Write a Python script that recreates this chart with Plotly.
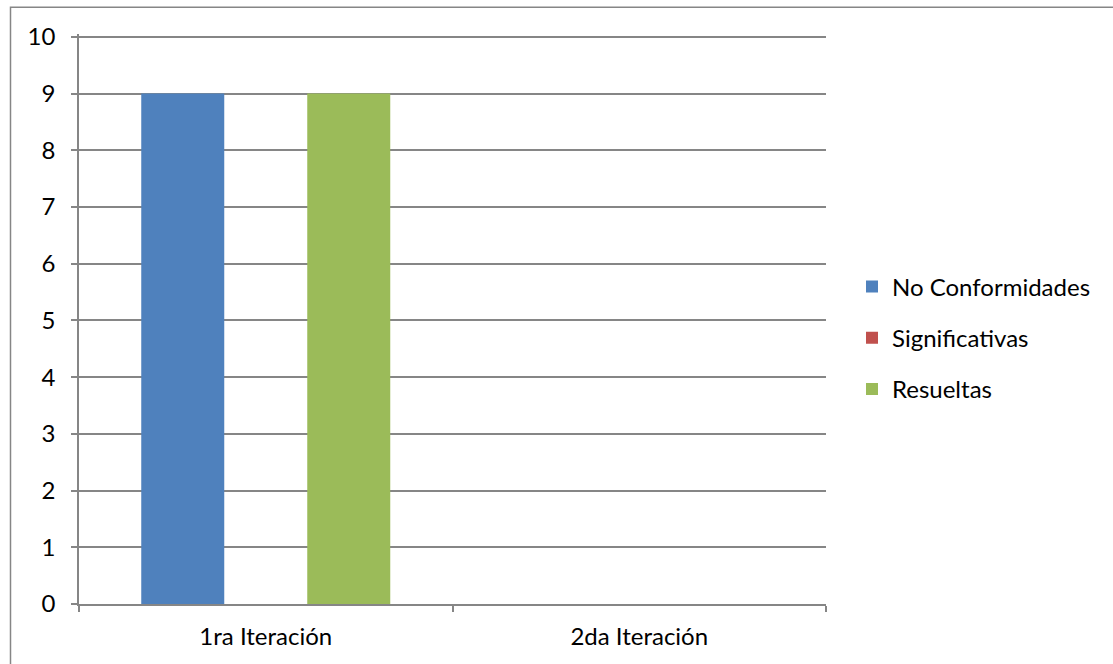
import plotly.graph_objects as go

categories = ["1ra Iteración", "2da Iteración"]
no_conformidades = [9, 0]
significativas = [0, 0]
resueltas = [9, 0]
y_ticks = list(range(0, 11))

W, H = 1113, 664
y_top = 10.05
unit = (604 - 37) / 10.0
L, R, B = 79, 1113 - 826, 664 - 604
T = 37 - (y_top - 10) * unit
pw, ph = W - L - R, H - T - B

font = dict(family="Lato, 'Open Sans', sans-serif", size=24, color="#000000")

fig = go.Figure()
fig.add_trace(go.Bar(name="No Conformidades", x=categories, y=no_conformidades,
                     marker=dict(color="#4F81BD", line=dict(width=0)), legendgroup="a"))
fig.add_trace(go.Bar(name="Significativas", x=categories, y=significativas,
                     marker=dict(color="#C0504D", line=dict(width=0)), legendgroup="b"))
fig.add_trace(go.Bar(name="Resueltas", x=categories, y=resueltas,
                     marker=dict(color="#9BBB59", line=dict(width=0)), legendgroup="c"))

fig.update_layout(
    width=W, height=H,
    margin=dict(l=L, r=R, t=T, b=B, autoexpand=False),
    paper_bgcolor="white", plot_bgcolor="white",
    font=font,
    barmode="group", bargap=1/3, bargroupgap=0,
    showlegend=True,
    legend=dict(x=(852 - L) / pw, xanchor="left", y=(604 - 338) / ph, yanchor="middle",
                font=font, tracegroupgap=17, itemwidth=30,
                bgcolor="rgba(0,0,0,0)"),
    xaxis=dict(showline=True, linecolor="#868686", linewidth=1.5,
               ticks="outside", tickson="boundaries", ticklen=6, tickcolor="#868686",
               tickwidth=1.5, showgrid=False, tickfont=font, fixedrange=True,
               ticklabelstandoff=10, automargin=False),
    yaxis=dict(range=[0, y_top], tickvals=y_ticks, showline=True, linecolor="#868686",
               linewidth=1.5, ticks="outside", ticklen=6, tickcolor="#868686", tickwidth=1.5,
               showgrid=True, gridcolor="#868686", gridwidth=1.5, zeroline=False,
               tickfont=font, fixedrange=True, ticklabelstandoff=11, automargin=False),
    shapes=[dict(type="rect", xref="paper", yref="paper",
                 x0=(10.5 - L) / pw, x1=(W + 20 - L) / pw,
                 y0=(604 - (H + 20)) / ph, y1=(604 - 7.5) / ph,
                 line=dict(color="#868686", width=1.5), fillcolor="rgba(0,0,0,0)",
                 layer="below")],
)

fig.write_html("out.html")
